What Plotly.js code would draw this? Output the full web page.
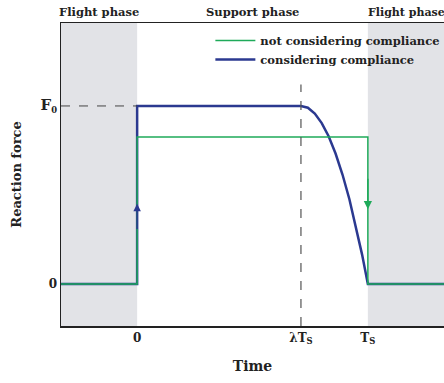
<!DOCTYPE html>
<html><head><meta charset="utf-8">
<script src="https://cdn.plot.ly/plotly-3.0.1.min.js"></script>
<style>html,body{margin:0;padding:0;background:#fff}#chart{width:444px;height:383px}</style>
</head><body><div id="chart"></div>
<script>
// data (time in units of Ts, force in units of F0)
const lambdaTs = 0.71;
const greenLevel = 0.826;
const blueX = [-0.33, 0, 0, 0.71, 0.74, 0.77, 0.80, 0.83, 0.86, 0.89, 0.92, 0.95, 0.975, 1.0, 1.33];
const blueY = [0, 0, 1, 1, 0.99, 0.957, 0.904, 0.83, 0.733, 0.615, 0.476, 0.315, 0.165, 0, 0];
const greenX = [-0.33, 0, 0, 1, 1, 1.33];
const greenY = [0, 0, greenLevel, greenLevel, 0, 0];
const xTickVals = [0, lambdaTs, 1];
const xTickText = ['0', 'λT<sub>S</sub>', 'T<sub>S</sub>'];
const yTickVals = [0, 1];
const yTickText = ['0', '<span style="font-size:15px">F</span><sub>0</sub>'];
const phaseLabels = ['Flight phase', 'Support phase', 'Flight phase'];

const XR = [-0.33, 1.33], YR = [-0.236, 1.466];
const FONT = 'DejaVu Serif, Liberation Serif, serif';
const BLUE = '#2b3990', GREEN = '#1faa5a', GREY = '#e2e3e7';

const traces = [
  {x: blueX, y: blueY, mode: 'lines', name: 'considering compliance',
   line: {color: BLUE, width: 2.5}},
  {x: greenX, y: greenY, mode: 'lines', name: 'not considering compliance',
   line: {color: GREEN, width: 1.5}}
];

const layout = {
  width: 444, height: 383,
  margin: {l: 61, r: 0, t: 23, b: 57, autoexpand: false},
  paper_bgcolor: '#fff', plot_bgcolor: '#fff',
  font: {family: FONT, color: '#222', size: 12},
  showlegend: true,
  legend: {x: 0.39, y: 0.99, xanchor: 'left', yanchor: 'top', traceorder: 'reversed',
           bgcolor: 'rgba(0,0,0,0)', font: {family: FONT, size: 11.5, color: '#222', weight: 'bold'},
           itemwidth: 40, tracegroupgap: 0},
  xaxis: {range: XR, showgrid: false, zeroline: false, showline: true, linecolor: '#222', linewidth: 1.5,
          mirror: true, ticks: '', tickvals: xTickVals, ticktext: xTickText,
          tickfont: {family: FONT, size: 12, weight: 'bold'},
          title: {text: '<b>Time</b>', font: {family: FONT, size: 14}, standoff: 16}},
  yaxis: {range: YR, showgrid: false, zeroline: false, showline: true, linecolor: '#222', linewidth: 1.5,
          ticks: '', tickvals: yTickVals, ticktext: yTickText,
          tickfont: {family: FONT, size: 12, weight: 'bold'},
          title: {text: '<b>Reaction force</b>', font: {family: FONT, size: 13}, standoff: 16}},
  shapes: [
    {type: 'rect', xref: 'x', yref: 'paper', x0: XR[0], x1: 0, y0: 0, y1: 1, fillcolor: GREY, line: {width: 0}, layer: 'below'},
    {type: 'rect', xref: 'x', yref: 'paper', x0: 1, x1: XR[1], y0: 0, y1: 1, fillcolor: GREY, line: {width: 0}, layer: 'below'},
    {type: 'line', xref: 'x', yref: 'y', x0: XR[0], x1: 0, y0: 1, y1: 1, line: {color: '#444', width: 1, dash: 'dash'}},
    {type: 'line', xref: 'x', yref: 'y', x0: lambdaTs, x1: lambdaTs, y0: YR[0], y1: 1.12, line: {color: '#555', width: 1.2, dash: 'dash'}}
  ],
  annotations: [
    {x: 0, y: 0.45, ax: 0, ay: 0.3, xref: 'x', yref: 'y', axref: 'x', ayref: 'y', text: '', showarrow: true,
     arrowhead: 2, arrowsize: 1, arrowwidth: 1.5, arrowcolor: BLUE},
    {x: 1, y: 0.42, ax: 1, ay: 0.6, xref: 'x', yref: 'y', axref: 'x', ayref: 'y', text: '', showarrow: true,
     arrowhead: 2, arrowsize: 1.1, arrowwidth: 1.5, arrowcolor: GREEN},
    {x: -0.165, y: 1, xref: 'x', yref: 'paper', yanchor: 'bottom', yshift: 2, text: '<b>' + phaseLabels[0] + '</b>', showarrow: false, font: {family: FONT, size: 11.5}},
    {x: 0.5, y: 1, xref: 'x', yref: 'paper', yanchor: 'bottom', yshift: 2, text: '<b>' + phaseLabels[1] + '</b>', showarrow: false, font: {family: FONT, size: 11.5}},
    {x: 1.0, y: 1, xref: 'x', yref: 'paper', xanchor: 'left', yanchor: 'bottom', yshift: 2, xshift: -2, text: '<b>' + phaseLabels[2] + '</b>', showarrow: false, font: {family: FONT, size: 11}}
  ]
};
Plotly.newPlot('chart', traces, layout, {displayModeBar: false, staticPlot: true});
</script></body></html>
